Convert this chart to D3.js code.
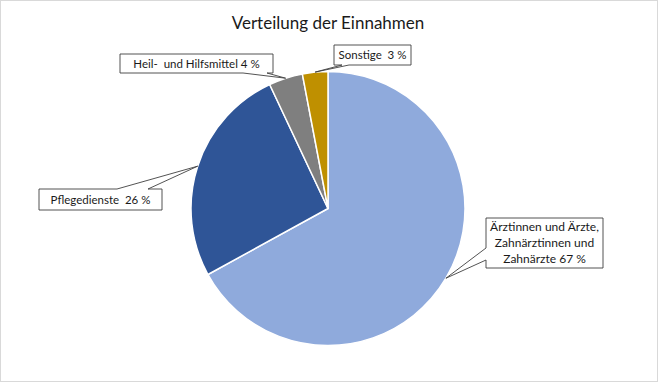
<!DOCTYPE html>
<html><head><meta charset="utf-8">
<script src="https://cdn.jsdelivr.net/npm/d3@7"></script>
<style>
html,body{margin:0;padding:0;background:#fff;}
svg{display:block;font-family:Lato,"Open Sans",sans-serif;}
</style></head>
<body>
<svg id="chart" width="658" height="382"></svg>
<script>
const title = "Verteilung der Einnahmen";
const categories = ["Ärztinnen und Ärzte, Zahnärztinnen und Zahnärzte", "Pflegedienste", "Heil- und Hilfsmittel", "Sonstige"];
const values = [67, 26, 4, 3];
const labelLines = [["Ärztinnen und Ärzte,", "Zahnärztinnen und", "Zahnärzte 67 %"], ["Pflegedienste\u00A0 26 %"], ["Heil-\u00A0 und Hilfsmittel 4 %"], ["Sonstige\u00A0 3 %"]];
const colors = ["#8FAADC", "#2F5597", "#7F7F7F", "#BF9000"];

const W = 658, H = 382;
const svg = d3.select("#chart");
svg.append("rect").attr("x",0.5).attr("y",0.5).attr("width",W-1).attr("height",H-1)
  .attr("fill","#fff").attr("stroke","#D9D9D9");

svg.append("text").attr("x",328).attr("y",29).attr("text-anchor","middle")
  .attr("font-size",17).attr("fill","#1a1a1a").text(title);

const cx = 328, cy = 208.5, r = 137;
const pie = d3.pie().sort(null).value(d=>d)(values);
const arc = d3.arc().innerRadius(0).outerRadius(r);
const g = svg.append("g").attr("transform",`translate(${cx},${cy})`);
g.selectAll("path").data(pie).join("path")
  .attr("d",arc).attr("fill",(d,i)=>colors[i])
  .attr("stroke","#fff").attr("stroke-width",1.5).attr("stroke-linejoin","round");

const boxes = [
  {b:[486,218,603,268], side:"left", p:[248,260]},
  {b:[39,189,162,210], side:"top", p:[117,148]},
  {b:[120,54,273,73], side:"bottom", p:[243,267]},
  {b:[334,45,411,65], side:"bottom", p:[342,349]}
];
pie.forEach((d,i)=>{
  const a = (d.startAngle+d.endAngle)/2;
  const tx = cx + r*Math.sin(a), ty = cy - r*Math.cos(a);
  const bx = boxes[i]; const [x0,y0,x1,y1] = bx.b; const [p1,p2] = bx.p;
  let path;
  if (bx.side==="left") path = `M${x0},${y0}H${x1}V${y1}H${x0}V${p2}L${tx},${ty}L${x0},${p1}Z`;
  else if (bx.side==="top") path = `M${x0},${y0}H${p1}L${tx},${ty}L${p2},${y0}H${x1}V${y1}H${x0}Z`;
  else path = `M${x0},${y0}H${x1}V${y1}H${p2}L${tx},${ty}L${p1},${y1}H${x0}Z`;
  svg.append("path").attr("d",path).attr("fill","#fff").attr("stroke","#404040").attr("stroke-width",0.9);
  const lines = labelLines[i];
  const lh = 16;
  const midY = (y0+y1)/2;
  const t = svg.append("text").attr("text-anchor","middle")
    .attr("font-size", lines.length>1 ? 12 : 11.5).attr("fill","#1a1a1a");
  lines.forEach((ln,k)=>{
    t.append("tspan").attr("x",(x0+x1)/2)
     .attr("y", midY + (k-(lines.length-1)/2)*lh + 4).text(ln);
  });
});
</script>
</body></html>
